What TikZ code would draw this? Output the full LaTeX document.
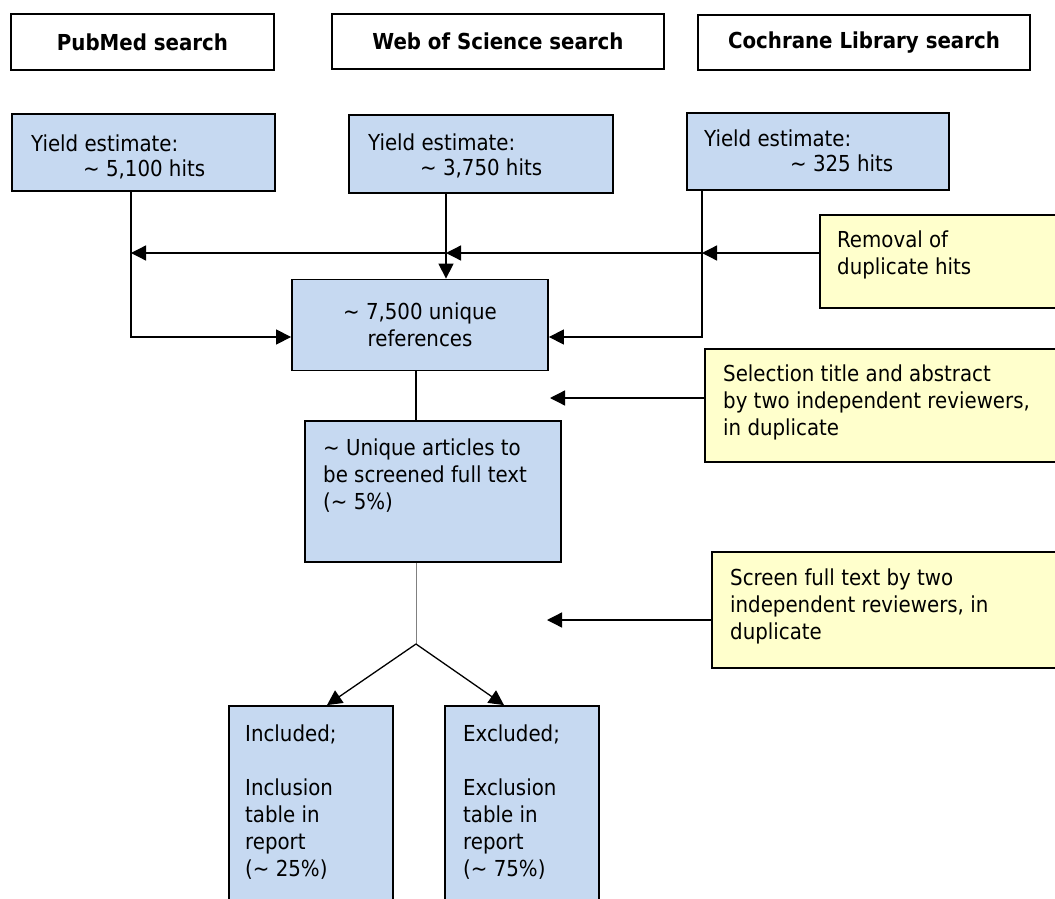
\documentclass[tikz,border=0pt]{standalone}
\usepackage{fontspec}
\setmainfont{DejaVu Sans Condensed}
\usetikzlibrary{arrows.meta}

\definecolor{boxblue}{HTML}{C6D9F1}
\definecolor{boxyellow}{HTML}{FFFFCC}

\tikzset{
  box/.style={draw, line width=1.8pt, inner sep=0pt,
    font=\fontsize{22pt}{27pt}\selectfont},
  searchbox/.style={box, fill=white, font=\fontsize{22pt}{27pt}\selectfont\bfseries},
  stepbox/.style={box, fill=boxblue},
  notebox/.style={box, fill=boxyellow},
  txt/.style={anchor=north west, inner sep=0pt, align=left,
    font=\fontsize{22pt}{27pt}\selectfont, execute at begin node=\strut},
  yieldtxt/.style={txt, font=\fontsize{22pt}{25pt}\selectfont},
  conn/.style={line width=1.3pt, -{Triangle[length=15pt,width=15pt]}},
  link/.style={line width=1.3pt},
}

\begin{document}
\begin{tikzpicture}[x=1pt, y=-1pt]
  \useasboundingbox (0,0) rectangle (1055,899);

  % searches
  \node[searchbox, minimum width=263pt, minimum height=56pt] (pubmed) at (142.5,42) {PubMed search};
  \node[searchbox, minimum width=332pt, minimum height=55pt] (wos) at (498,41.5) {Web of Science search};
  \node[searchbox, minimum width=332pt, minimum height=55pt] (cochrane) at (864,42.5) {Cochrane Library search};

  % yields
  \node[stepbox, minimum width=263pt, minimum height=77pt] (yield1) at (143.5,152.5) {};
  \node[stepbox, minimum width=264pt, minimum height=78pt] (yield2) at (481,154) {};
  \node[stepbox, minimum width=262pt, minimum height=77pt] (yield3) at (818,151.5) {};
  \node[yieldtxt] (yield1t) at (31,135) {Yield estimate:\\\hspace*{52pt}\textasciitilde{} 5,100 hits};
  \node[yieldtxt] (yield2t) at (368,134) {Yield estimate:\\\hspace*{52pt}\textasciitilde{} 3,750 hits};
  \node[yieldtxt] (yield3t) at (704,130) {Yield estimate:\\\hspace*{86pt}\textasciitilde{} 325 hits};

  % notes on the right
  \node[notebox, minimum width=245pt, minimum height=93pt] (removal) at (942.5,261.5) {};
  \node[txt] (removalt) at (837,231) {Removal of\\duplicate hits};
  \node[notebox, minimum width=360pt, minimum height=113pt] (selection) at (885,405.5) {};
  \node[txt] (selectiont) at (723,365) {Selection title and abstract\\by two independent reviewers,\\in duplicate};
  \node[notebox, minimum width=353pt, minimum height=116pt] (screen) at (888.5,610) {};
  \node[txt] (screent) at (730,569) {Screen full text by two\\independent reviewers, in\\duplicate};

  % main column
  \node[stepbox, minimum width=256pt, minimum height=91pt, align=center] (refs) at (420,325)
    {\textasciitilde{} 7,500 unique\\references};
  \node[stepbox, minimum width=256pt, minimum height=141pt] (articles) at (433,491.5) {};
  \node[txt] (articlest) at (323,439) {\textasciitilde{} Unique articles to\\be screened full text\\(\textasciitilde{} 5\%)};
  \node[stepbox, minimum width=164pt, minimum height=214pt] (incl) at (311,813) {};
  \node[txt] (inclt) at (245,725) {Included;\\[27pt]Inclusion\\table in\\report\\(\textasciitilde{} 25\%)};
  \node[stepbox, minimum width=154pt, minimum height=214pt] (excl) at (522,813) {};
  \node[txt] (exclt) at (463,725) {Excluded;\\[27pt]Exclusion\\table in\\report\\(\textasciitilde{} 75\%)};

  \coordinate (j1) at (131,253);
  \coordinate (j2) at (446,253);
  \coordinate (j3) at (702,253);
  \coordinate (k1) at (131,337);
  \coordinate (k3) at (702,337);
  \coordinate (split) at (416,644);
  \coordinate (t1) at (550,398);
  \coordinate (t2) at (547,620);

  % merging
  \draw[conn] (yield1.south -| k1) -- (k1) -- (k1 -| refs.west);
  \draw[conn] (yield2.south -| j2) -- (j2 |- refs.north);
  \draw[conn] (yield3.south -| k3) -- (k3) -- (k3 -| refs.east);
  \draw[conn] (removal.west |- j3) -- (j3);
  \draw[conn] (j3) -- (j2);
  \draw[conn] (j2) -- (j1);

  % screening
  \draw[link] (refs.south -| split) -- (articles.north -| split);
  \draw[conn] (selection.west |- t1) -- (t1);
  \draw[gray, line width=0.8pt] (articles.south -| split) -- (split);
  \draw[conn] (screen.west |- t2) -- (t2);
  \draw[conn] (split) -- ([xshift=16pt]incl.north);
  \draw[conn] (split) -- ([xshift=-18pt]excl.north);
\end{tikzpicture}
\end{document}
